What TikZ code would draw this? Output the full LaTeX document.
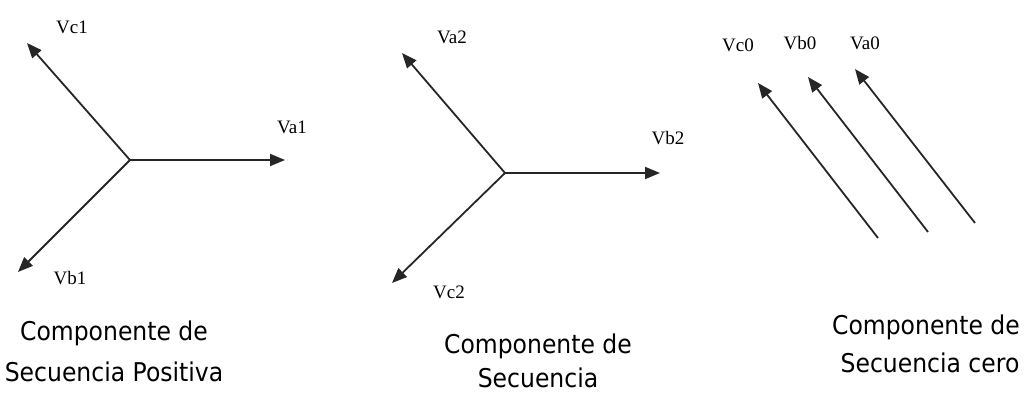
\documentclass[tikz,border=0pt]{standalone}
\usepackage{fontspec}
\setmainfont{Liberation Serif}
\newfontfamily\capfont{DejaVu Sans}
\usetikzlibrary{arrows.meta}
\begin{document}
\begin{tikzpicture}[x=1pt,y=-1pt,
  phasor/.style={draw=black!85,line width=1.8pt,-{Triangle[length=15pt,width=12pt]}},
  vlabel/.style={font=\fontsize{19}{19}\selectfont,inner sep=0pt},
  caption/.style={font=\capfont\fontsize{23.5}{23.5}\selectfont,inner sep=0pt,anchor=base,yscale=1.1}]
\useasboundingbox (0,0) rectangle (1031,394);
% positive sequence
\coordinate (o1) at (130,160);
\coordinate (a1) at (285,160);
\coordinate (c1) at (27,43);
\coordinate (b1) at (18,272);
\draw[phasor] (o1) -- (a1);
\draw[phasor] (o1) -- (c1);
\draw[phasor] (o1) -- (b1);
\node[vlabel] (la1) at (292,127) {Va1};
\node[vlabel] (lc1) at (72,27) {Vc1};
\node[vlabel] (lb1) at (70,278) {Vb1};
% negative sequence
\coordinate (o2) at (505,173);
\coordinate (b2) at (660,173);
\coordinate (a2) at (402,53);
\coordinate (c2) at (392,283);
\draw[phasor] (o2) -- (b2);
\draw[phasor] (o2) -- (a2);
\draw[phasor] (o2) -- (c2);
\node[vlabel] (la2) at (452,37) {Va2};
\node[vlabel] (lb2) at (668,138) {Vb2};
\node[vlabel] (lc2) at (449,292) {Vc2};
% zero sequence
\coordinate (c0s) at (878,238);
\coordinate (c0) at (758,83);
\coordinate (b0s) at (928,232);
\coordinate (b0) at (808,77);
\coordinate (a0s) at (975,223);
\coordinate (a0) at (855,69);
\draw[phasor] (c0s) -- (c0);
\draw[phasor] (b0s) -- (b0);
\draw[phasor] (a0s) -- (a0);
\node[vlabel] (lc0) at (738,45) {Vc0};
\node[vlabel] (lb0) at (800,43) {Vb0};
\node[vlabel] (la0) at (865,43) {Va0};
% captions
\node[caption] (t1a) at (114,340) {Componente de};
\node[caption] (t1b) at (114,381) {Secuencia Positiva};
\node[caption] (t2a) at (538,353) {Componente de};
\node[caption] (t2b) at (538,387) {Secuencia};
\node[caption] (t3a) at (926,334) {Componente de};
\node[caption] (t3b) at (930,372) {Secuencia cero};
\end{tikzpicture}
\end{document}
